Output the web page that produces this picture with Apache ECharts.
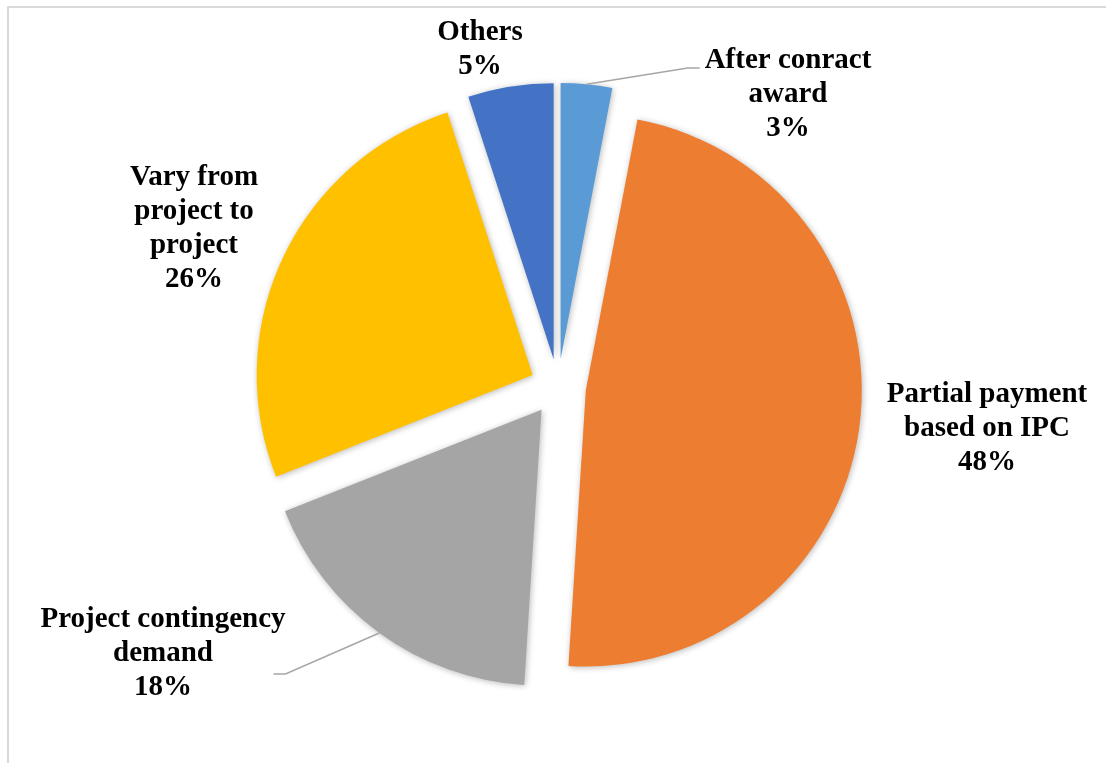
<!DOCTYPE html>
<html>
<head>
<meta charset="utf-8">
<style>
  html, body { margin: 0; padding: 0; background: #ffffff; }
  #frame {
    position: absolute; left: 7px; top: 6px; width: 1120px; height: 780px;
    border-top: 2px solid #d9d9d9; border-left: 2px solid #d9d9d9;
  }
  #chart { position: absolute; left: 0; top: 0; width: 1106px; height: 763px; }
</style>
<script src="https://cdn.jsdelivr.net/npm/echarts@6/dist/echarts.min.js"></script>
</head>
<body>
<div id="frame"></div>
<div id="chart"></div>
<script>
// Payment timing categories, clockwise from 12 o'clock
const categories = [
  'After conract\naward',
  'Partial payment\nbased on IPC',
  'Project contingency\ndemand',
  'Vary from\nproject to\nproject',
  'Others'
];
const shares = [3, 48, 18, 26, 5];
const sliceColors = ['#5B9BD5', '#ED7D31', '#A5A5A5', '#FFC000', '#4472C4'];

// Layout of the pie and of the label blocks
const pieCenter = [558, 387];
const pieRadius = 276;
const explode = 28;
const labelCenters = [[788, 95], [987, 429], [163, 654], [194, 229], [480, 50]];
// Where each leader line meets its label block
const leaderJoins = {
  0: { side: 'left', dy: 24, bend: -17, end: -5 },
  2: { side: 'right', dy: 71, bend: 0, end: -12 }
};

const chart = echarts.init(document.getElementById('chart'), null, { renderer: 'canvas' });

const sliceData = categories.map((name, i) => ({
  name: name,
  value: shares[i],
  selected: true,
  itemStyle: { color: sliceColors[i] }
}));

const labelData = categories.map((name, i) => ({
  name: name,
  value: shares[i],
  labelLine: { show: leaderJoins[i] != null }
}));

const labelFont = {
  fontFamily: '"Liberation Serif", "Times New Roman", serif',
  fontWeight: 'bold',
  fontSize: 29,
  lineHeight: 34,
  color: '#000000'
};

chart.setOption({
  animation: false,
  series: [
    {
      // exploded slices
      type: 'pie',
      center: pieCenter,
      radius: pieRadius,
      startAngle: 90,
      clockwise: true,
      selectedMode: 'multiple',
      selectedOffset: explode,
      silent: true,
      label: { show: false },
      labelLine: { show: false },
      emphasis: { disabled: true, scale: false },
      itemStyle: {
        borderWidth: 0,
        shadowBlur: 6,
        shadowOffsetX: 1,
        shadowOffsetY: 1,
        shadowColor: 'rgba(0,0,0,0.28)'
      },
      select: { itemStyle: { borderWidth: 0 } },
      data: sliceData
    },
    {
      // invisible ring carrying the labels; its rim sits on the exploded slices' rims
      type: 'pie',
      center: pieCenter,
      radius: pieRadius + explode,
      startAngle: 90,
      clockwise: true,
      silent: true,
      z: 3,
      itemStyle: { color: 'rgba(0,0,0,0)' },
      emphasis: { disabled: true, scale: false },
      label: Object.assign({
        show: true,
        position: 'outside',
        align: 'center',
        overflow: 'none',
        edgeDistance: 0,
        formatter: '{b}\n{d}%'
      }, labelFont),
      labelLine: {
        show: true,
        lineStyle: { color: '#a6a6a6', width: 1.5 }
      },
      labelLayout: function (params) {
        const i = params.dataIndex;
        const c = labelCenters[i];
        const w = params.labelRect.width;
        const h = params.labelRect.height;
        const out = { x: c[0], y: c[1], align: 'center', verticalAlign: 'middle' };
        const join = leaderJoins[i];
        if (join && params.labelLinePoints) {
          const top = c[1] - h / 2;
          const yj = top + join.dy;
          const p0 = params.labelLinePoints[0];
          if (join.side === 'left') {
            const left = c[0] - w / 2;
            out.labelLinePoints = [[p0[0], p0[1]], [left + join.bend, yj], [left + join.end, yj]];
          } else {
            const right = c[0] + w / 2;
            out.labelLinePoints = [[p0[0], p0[1]], [right + join.bend, yj], [right + join.end, yj]];
          }
        }
        return out;
      },
      data: labelData
    }
  ]
});
</script>
</body>
</html>
